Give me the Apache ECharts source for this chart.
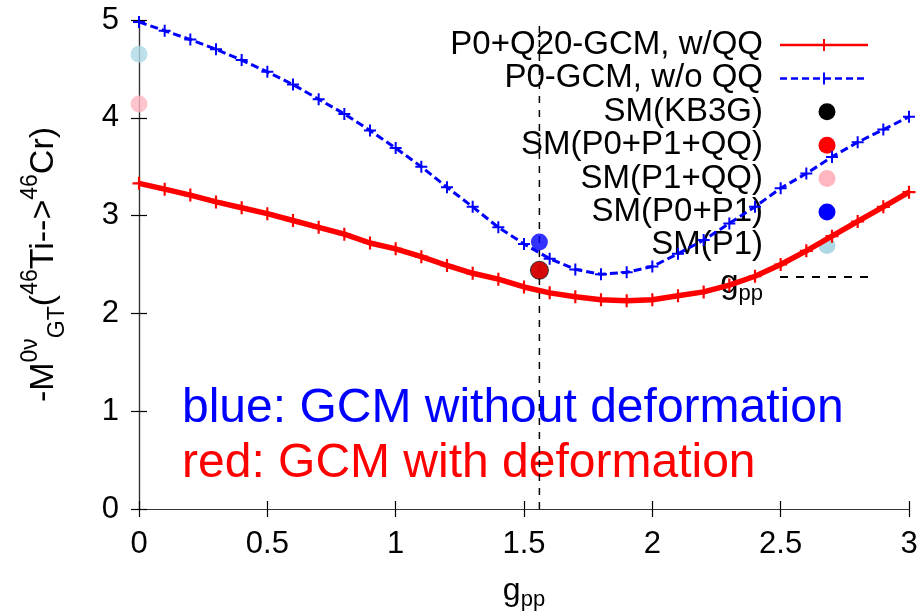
<!DOCTYPE html>
<html>
<head>
<meta charset="utf-8">
<title>GCM vs SM</title>
<script src="https://cdn.jsdelivr.net/npm/echarts@6/dist/echarts.min.js"></script>
<style>
  html, body {margin:0;padding:0;background:#fff;}
  #chart {width:923px;height:612px;}
</style>
</head>
<body>
<div id="chart"></div>
<script>
// g_pp grid, 0 .. 3 step 0.1
var gpp = [0,0.1,0.2,0.3,0.4,0.5,0.6,0.7,0.8,0.9,1.0,1.1,1.2,1.3,1.4,1.5,1.6,1.7,1.8,1.9,2.0,2.1,2.2,2.3,2.4,2.5,2.6,2.7,2.8,2.9,3.0];
// P0+Q20-GCM, w/QQ (red)
var gcmDef = [3.33,3.27,3.21,3.14,3.08,3.02,2.95,2.88,2.81,2.72,2.66,2.58,2.49,2.41,2.35,2.27,2.21,2.17,2.14,2.13,2.14,2.18,2.22,2.29,2.38,2.50,2.64,2.79,2.94,3.09,3.24];
// P0-GCM, w/o QQ (blue)
var gcmNoDef = [4.98,4.89,4.80,4.70,4.59,4.47,4.34,4.19,4.04,3.87,3.69,3.50,3.29,3.09,2.88,2.71,2.56,2.45,2.40,2.42,2.48,2.61,2.75,2.92,3.09,3.28,3.43,3.60,3.75,3.88,4.01];

// shell model points [g_pp, value]
var smKB3G = [[1.56, 2.44]];
var smP0P1QQ = [[1.56, 2.44]];
var smP1QQ = [[0, 4.14]];
var smP0P1 = [[1.56, 2.73]];
var smP1 = [[0, 4.65]];
var gppRef = 1.56;

var FONT = 'Liberation Sans';
var PLUS = 'path://M5,0H7V5H12V7H7V12H5V7H0V5H5Z';

function pairs(xs, ys) {
    return xs.map(function (x, i) { return [x, ys[i]]; });
}

var chart = echarts.init(document.getElementById('chart'));

var axisCommon = {
    type: 'value',
    axisLine: {show: true, lineStyle: {color: '#333', width: 1.2}},
    axisTick: {show: true, inside: true, length: 8, lineStyle: {color: '#000', width: 1.2}},
    splitLine: {show: false}
};

// legend rows (drawn as graphic so that text is right aligned like gnuplot)
var legendRows = [
    {label: 'P0+Q20-GCM, w/QQ', kind: 'line', color: '#ff0000', dash: null},
    {label: 'P0-GCM, w/o QQ', kind: 'line', color: '#0000ff', dash: [7, 4]},
    {label: 'SM(KB3G)', kind: 'dot', color: '#000000'},
    {label: 'SM(P0+P1+QQ)', kind: 'dot', color: '#ff0000'},
    {label: 'SM(P1+QQ)', kind: 'dot', color: '#ffb6c1'},
    {label: 'SM(P0+P1)', kind: 'dot', color: '#0000ff'},
    {label: 'SM(P1)', kind: 'dot', color: '#add8e6'}
];
var legendEls = [];
legendRows.forEach(function (r, i) {
    var y = 45 + i * 33.4;
    legendEls.push({
        type: 'text', x: 763, y: y,
        style: {text: r.label, font: '33px "' + FONT + '"', fill: '#000', align: 'right', verticalAlign: 'middle'}
    });
    if (r.kind === 'line') {
        legendEls.push({
            type: 'line', shape: {x1: 780, y1: y, x2: 868, y2: y},
            style: {stroke: r.color, lineWidth: 2.5, lineDash: r.dash}
        });
        legendEls.push({
            type: 'line', shape: {x1: 824, y1: y - 6, x2: 824, y2: y + 6},
            style: {stroke: r.color, lineWidth: 2}
        });
    } else {
        legendEls.push({
            type: 'circle', shape: {cx: 827, cy: y, r: 8.5},
            style: {fill: r.color}
        });
    }
});
legendEls.push({
    type: 'text', x: 763, y: 284,
    style: {
        text: '{g|g}{s|pp}', align: 'right', verticalAlign: 'middle',
        rich: {
            g: {font: '33px "' + FONT + '"', fill: '#000', lineHeight: 42, verticalAlign: 'middle'},
            s: {font: '22px "' + FONT + '"', fill: '#000', lineHeight: 42, verticalAlign: 'bottom'}
        }
    }
});
legendEls.push({
    type: 'line', shape: {x1: 780, y1: 277, x2: 868, y2: 277},
    style: {stroke: '#000', lineWidth: 2, lineDash: [8, 8]}
});

chart.setOption({
    backgroundColor: '#fff',
    animation: false,
    grid: {left: 139, right: 14, top: 20, bottom: 103, outerBoundsMode: 'none'},
    xAxis: [
        Object.assign({}, axisCommon, {
            min: 0, max: 3, interval: 0.5, position: 'bottom',
            axisLabel: {color: '#000', fontFamily: FONT, fontSize: 31, margin: 20},
            name: '{g|g}{s|pp}', nameLocation: 'middle', nameGap: 62,
            nameTextStyle: {
                rich: {
                    g: {fontFamily: FONT, fontSize: 32, color: '#000', lineHeight: 40, verticalAlign: 'middle'},
                    s: {fontFamily: FONT, fontSize: 22, color: '#000', lineHeight: 40, verticalAlign: 'bottom'}
                }
            }
        }),
        Object.assign({}, axisCommon, {
            min: 0, max: 3, interval: 0.5, position: 'top',
            axisLabel: {show: false}
        })
    ],
    yAxis: [
        Object.assign({}, axisCommon, {
            min: 0, max: 5, interval: 1, position: 'left',
            axisLabel: {color: '#000', fontFamily: FONT, fontSize: 31, margin: 20},
            name: '{m|-M}{p|0ν}{b|GT}{m|(}{p|46}{m|Ti-->}{p|46}{m|Cr)}',
            nameLocation: 'middle', nameGap: 70, nameRotate: 90,
            nameTextStyle: {
                rich: {
                    m: {fontFamily: FONT, fontSize: 34, color: '#000', lineHeight: 50, verticalAlign: 'middle'},
                    p: {fontFamily: FONT, fontSize: 23, color: '#000', lineHeight: 50, verticalAlign: 'top'},
                    b: {fontFamily: FONT, fontSize: 23, color: '#000', lineHeight: 50, verticalAlign: 'bottom'}
                }
            }
        }),
        Object.assign({}, axisCommon, {
            min: 0, max: 5, interval: 1, position: 'right',
            axisLabel: {show: false}
        })
    ],
    series: [
        {
            name: 'g_pp', type: 'line', data: [[gppRef, 0], [gppRef, 5]],
            symbol: 'none', silent: true, z: 1,
            lineStyle: {color: '#000', width: 1.5, type: [7, 7]}
        },
        {
            name: 'P0-GCM, w/o QQ', type: 'line', data: pairs(gpp, gcmNoDef),
            symbol: PLUS, symbolSize: 12, showSymbol: true, z: 3,
            itemStyle: {color: '#0000ff'},
            lineStyle: {color: '#0000ff', width: 3, type: [8, 4]}
        },
        {
            name: 'P0+Q20-GCM, w/QQ', type: 'line', data: pairs(gpp, gcmDef),
            symbol: PLUS, symbolSize: 13, showSymbol: true, z: 3,
            itemStyle: {color: '#ff0000'},
            lineStyle: {color: '#ff0000', width: 5.5}
        },
        {name: 'SM(KB3G)', type: 'scatter', data: smKB3G, symbolSize: 19, z: 4, itemStyle: {color: '#000'}},
        {name: 'SM(P0+P1+QQ)', type: 'scatter', data: smP0P1QQ, symbolSize: 17, z: 5, itemStyle: {color: '#ff0000'}},
        {name: 'SM(P1+QQ)', type: 'scatter', data: smP1QQ, symbolSize: 17, z: 5, itemStyle: {color: '#ffb6c1'}},
        {name: 'SM(P0+P1)', type: 'scatter', data: smP0P1, symbolSize: 17, z: 5, itemStyle: {color: '#0000ff'}},
        {name: 'SM(P1)', type: 'scatter', data: smP1, symbolSize: 17, z: 5, itemStyle: {color: '#add8e6'}}
    ],
    graphic: legendEls.concat([
        {
            type: 'text', x: 182, y: 409,
            style: {text: 'blue: GCM without deformation', font: '48px "' + FONT + '"', fill: '#0000ff', verticalAlign: 'middle'}
        },
        {
            type: 'text', x: 182, y: 464,
            style: {text: 'red: GCM with deformation', font: '48px "' + FONT + '"', fill: '#ff0000', verticalAlign: 'middle'}
        }
    ])
});
</script>
</body>
</html>
